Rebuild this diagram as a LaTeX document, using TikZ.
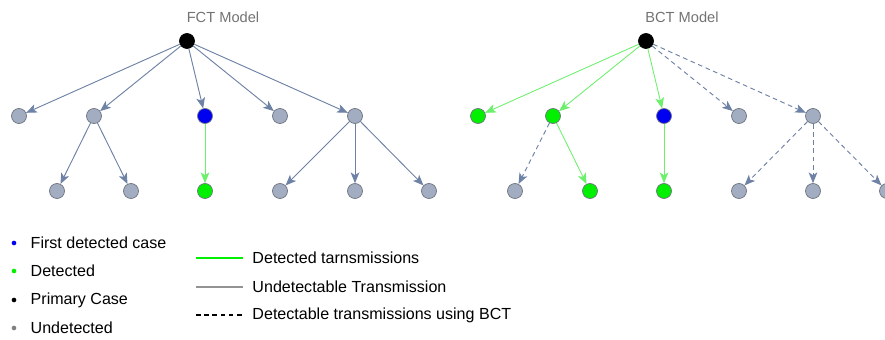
\documentclass[tikz,border=0pt]{standalone}
\usepackage{fontspec}
\setmainfont{Liberation Sans}
\usetikzlibrary{arrows.meta}
\usetikzlibrary{positioning}
\definecolor{edgeblue}{HTML}{6E82A6}
\definecolor{nodegray}{HTML}{A3ADC2}
\definecolor{rimgray}{HTML}{6F7480}
\definecolor{litegreen}{HTML}{6CF06C}
\definecolor{caseblue}{HTML}{0000F0}
\definecolor{casegreen}{HTML}{00F000}

\begin{document}
\begin{tikzpicture}[
                x=0.03cm, y=-0.03cm,
                every node/.style={font=\fontsize{13.7}{15}\selectfont},
                case/.style={circle, draw=rimgray, line width=0.6pt, fill=nodegray,
                    minimum size=0.45cm, inner sep=0pt},
                undet/.style={case},
                det/.style={case, fill=casegreen},
                first/.style={case, fill=caseblue},
                primary/.style={case, fill=black, draw=black},
                hidden/.style={-{Stealth[length=3.2mm, width=2.6mm, inset=0.8mm]}, line width=0.8pt, draw=edgeblue},
                found/.style={-{Stealth[length=3.2mm, width=2.6mm, inset=0.8mm]}, line width=0.7pt, draw=litegreen, fill=litegreen},
                bct/.style={hidden, dash pattern=on 4pt off 3pt},
                title/.style={font=\fontsize{12.5}{14}\selectfont, text=gray!90!black},
                dot/.style={circle, inner sep=0pt, minimum size=0.14cm},
                key/.style={anchor=west},
            ]
            \clip (0,0) rectangle (885,340);

            % FCT tree
            \node[title] (fcttitle) at (223,17) {FCT Model};
            \node[primary] (fct0) at (187,41) {};
            \node[undet] (fct1) at (19,116) {};
            \node[undet] (fct2) at (94,116) {};
            \node[first] (fct3) at (205,116) {};
            \node[undet] (fct4) at (280,116) {};
            \node[undet] (fct5) at (355,116) {};
            \node[undet] (fct21) at (57,191) {};
            \node[undet] (fct22) at (131,191) {};
            \node[det] (fct31) at (205,191) {};
            \node[undet] (fct51) at (280,191) {};
            \node[undet] (fct52) at (355,191) {};
            \node[undet] (fct53) at (429,191) {};

            \draw[hidden] (fct0) -- (fct1);
            \draw[hidden] (fct0) -- (fct2);
            \draw[hidden] (fct0) -- (fct3);
            \draw[hidden] (fct0) -- (fct4);
            \draw[hidden] (fct0) -- (fct5);
            \draw[hidden] (fct2) -- (fct21);
            \draw[hidden] (fct2) -- (fct22);
            \draw[found] (fct3) -- (fct31);
            \draw[hidden] (fct5) -- (fct51);
            \draw[hidden] (fct5) -- (fct52);
            \draw[hidden] (fct5) -- (fct53);

            % BCT tree
            \node[title] (bcttitle) at (682,17) {BCT Model};
            \node[primary] (bct0) at (646,41) {};
            \node[det] (bct1) at (478,116) {};
            \node[det] (bct2) at (553,116) {};
            \node[first] (bct3) at (664,116) {};
            \node[undet] (bct4) at (739,116) {};
            \node[undet] (bct5) at (813,116) {};
            \node[undet] (bct21) at (515,191) {};
            \node[det] (bct22) at (590,191) {};
            \node[det] (bct31) at (664,191) {};
            \node[undet] (bct51) at (739,191) {};
            \node[undet] (bct52) at (813,191) {};
            \node[undet] (bct53) at (887,191) {};

            \draw[found] (bct0) -- (bct1);
            \draw[found] (bct0) -- (bct2);
            \draw[found] (bct0) -- (bct3);
            \draw[bct] (bct0) -- (bct4);
            \draw[bct] (bct0) -- (bct5);
            \draw[bct] (bct2) -- (bct21);
            \draw[found] (bct2) -- (bct22);
            \draw[found] (bct3) -- (bct31);
            \draw[bct] (bct5) -- (bct51);
            \draw[bct] (bct5) -- (bct52);
            \draw[bct] (bct5) -- (bct53);

            % Legend: cases
            \node[dot, fill=caseblue] (kfirst) at (14,243) {};
            \node[key, right=0.3cm of kfirst] {First detected case};
            \node[dot, fill=casegreen] (kdet) at (14,271) {};
            \node[key, right=0.3cm of kdet] {Detected};
            \node[dot, fill=black] (kprim) at (14,300) {};
            \node[key, right=0.3cm of kprim] {Primary Case};
            \node[dot, fill=gray] (kund) at (14,328) {};
            \node[key, right=0.3cm of kund] {Undetected};

            % Legend: transmissions
            \coordinate (lgreen) at (196,258);
            \coordinate (lgray) at (196,287);
            \coordinate (ldash) at (196,315);
            \draw[line width=1pt, draw=casegreen] (lgreen) -- ++(47,0) node[key, right=0.15cm] {Detected tarnsmissions};
            \draw[line width=1pt, draw=gray!85] (lgray) -- ++(47,0) node[key, right=0.15cm] {Undetectable Transmission};
            \draw[line width=1pt, dash pattern=on 4pt off 3pt] (ldash) -- ++(47,0) node[key, right=0.15cm] {Detectable transmissions using BCT};

            \end{tikzpicture}
\end{document}
